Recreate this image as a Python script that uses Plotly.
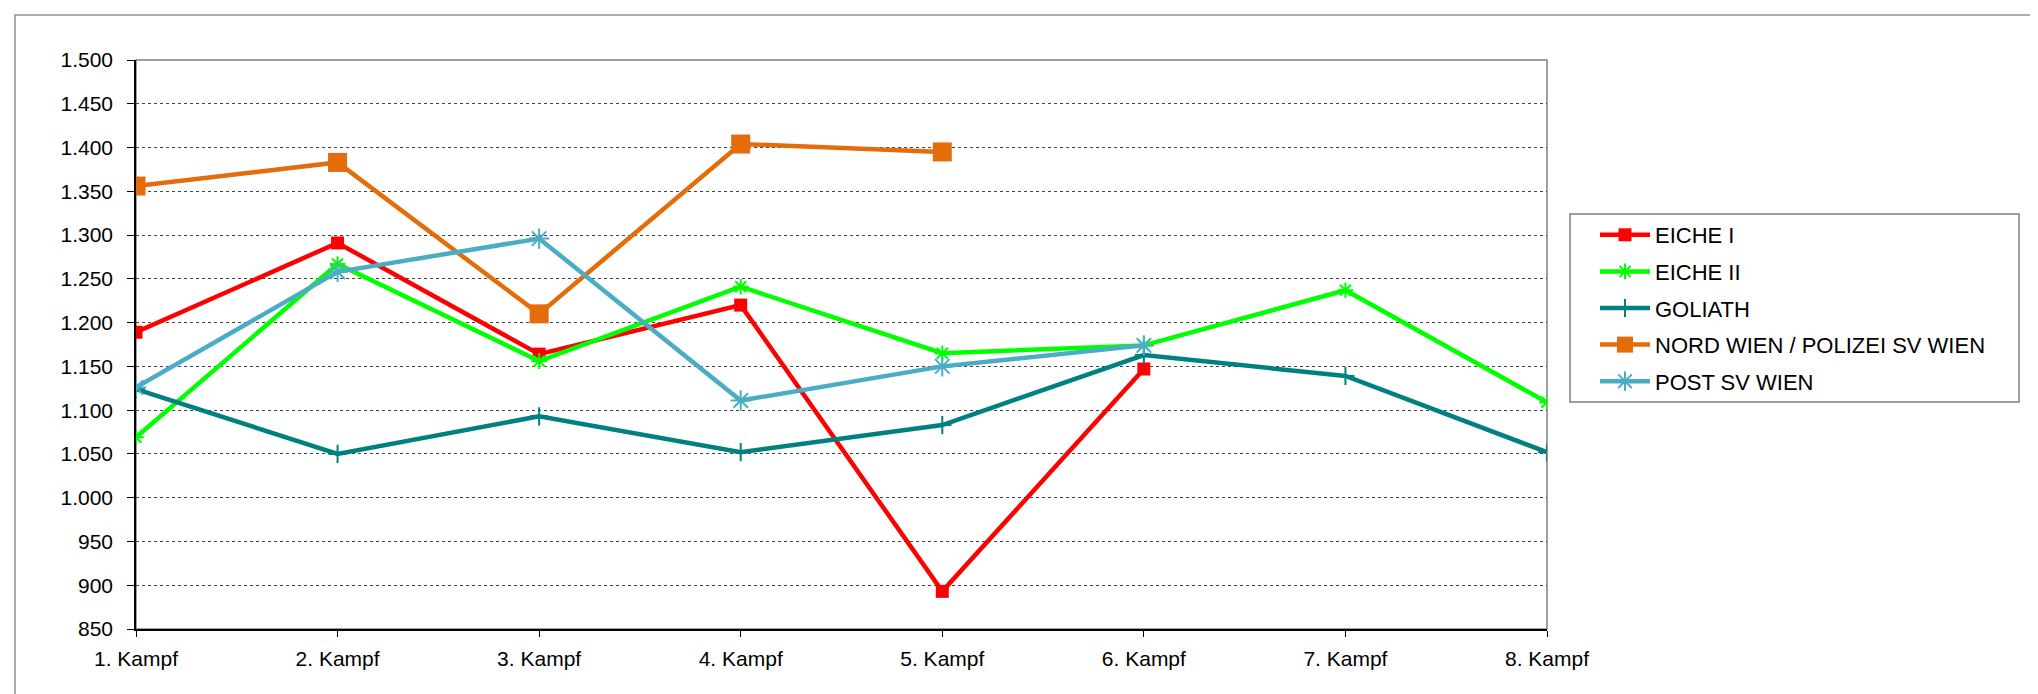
import plotly.graph_objects as go

categories = ["1. Kampf", "2. Kampf", "3. Kampf", "4. Kampf", "5. Kampf", "6. Kampf", "7. Kampf", "8. Kampf"]

eiche_1 = [1189, 1291, 1164, 1220, 893, 1147, None, None]
eiche_2 = [1069, 1267, 1156, 1241, 1165, 1174, 1237, 1109]
goliath = [1124, 1050, 1093, 1052, 1083, 1163, 1139, 1052]
nord_wien = [1356, 1383, 1210, 1404, 1395, None, None, None]
post_sv = [1126, 1258, 1296, 1111, 1150, 1174, None, None]

series_names = ["EICHE I", "EICHE II", "GOLIATH", "NORD WIEN / POLIZEI SV WIEN", "POST SV WIEN"]
y_ticks = list(range(850, 1501, 50))

styles = [
    dict(color="#FF0000", symbol="square", size=13, lw=0, lwidth=4.5),
    dict(color="#00FF00", symbol="asterisk-open", size=13, lw=2, lwidth=4.5),
    dict(color="#008080", symbol="cross-thin-open", size=13, lw=2, lwidth=4.5),
    dict(color="#E46C0A", symbol="square", size=19, lw=0, lwidth=4.5),
    dict(color="#4BACC6", symbol="asterisk-open", size=17, lw=2, lwidth=4.5),
]
data = [eiche_1, eiche_2, goliath, nord_wien, post_sv]

fig = go.Figure()
for i, (name, vals, st) in enumerate(zip(series_names, data, styles)):
    fig.add_trace(go.Scatter(
        x=categories, y=vals, name=name, mode="lines+markers",
        legendgroup=f"g{i}",
        connectgaps=False,
        line=dict(color=st["color"], width=st["lwidth"]),
        marker=dict(symbol=st["symbol"], size=st["size"], color=st["color"],
                    line=dict(color=st["color"], width=st["lw"])),
    ))

W, H = 2038, 694
L, R, T, B = 128, 1539, 52, 621
pw, ph = R - L, B - T

def px(x):
    return (x - L) / pw

def py(y):
    return (B - y) / ph

fig.update_layout(
    width=W, height=H,
    margin=dict(l=L, r=W - R, t=T, b=H - B, autoexpand=False),
    paper_bgcolor="white", plot_bgcolor="white",
    separators=",.",
    font=dict(family="Arial, Liberation Sans, sans-serif", size=21, color="black"),
    showlegend=True,
    legend=dict(
        x=px(1587), y=py(206), xanchor="left", yanchor="top",
        borderwidth=0, bgcolor="rgba(0,0,0,0)",
        font=dict(size=22), tracegroupgap=5, itemwidth=50,
    ),
    xaxis=dict(
        type="category", range=[0, 7], showgrid=False,
        showline=True, linecolor="black", linewidth=1.5,
        ticks="outside", ticklen=6, tickcolor="black",
        tickfont=dict(size=21), ticklabelstandoff=4,
    ),
    yaxis=dict(
        range=[850, 1500], tickvals=y_ticks, tickformat=",d",
        showgrid=True, gridcolor="#444444", gridwidth=1, griddash="dot",
        showline=True, linecolor="black", linewidth=1.5,
        ticks="outside", ticklen=7, tickcolor="black",
        tickfont=dict(size=21), ticklabelstandoff=10, zeroline=False,
    ),
    shapes=[
        dict(type="rect", xref="paper", yref="paper", x0=0, x1=1, y0=0, y1=1,
             line=dict(color="#808080", width=1.5), layer="below"),
        dict(type="rect", xref="paper", yref="paper", x0=px(7), x1=px(2028), y0=py(692), y1=py(7),
             line=dict(color="#909090", width=1.5), layer="below"),
        dict(type="rect", xref="paper", yref="paper", x0=px(1562), x1=px(2011), y0=py(394), y1=py(206),
             line=dict(color="#808080", width=1.5), fillcolor="white", layer="below"),
    ],
)

fig.write_html("out.html")
